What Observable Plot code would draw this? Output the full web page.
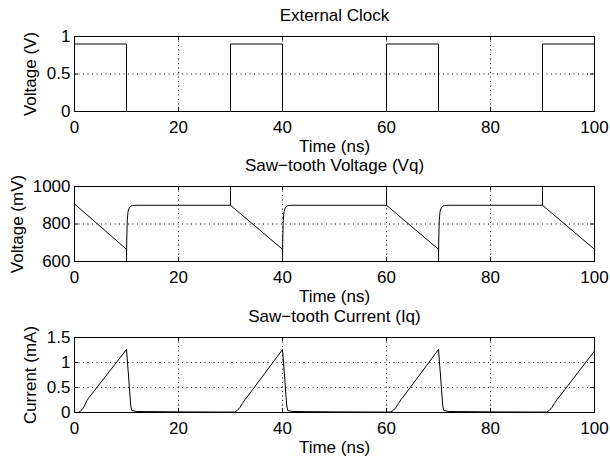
<!DOCTYPE html>
<html>
<head>
<meta charset="utf-8">
<script src="https://cdn.jsdelivr.net/npm/d3@7"></script>
<script src="https://cdn.jsdelivr.net/npm/@observablehq/plot@0.6"></script>
<style>
  html, body { margin: 0; padding: 0; background: #fff; }
  #chart { width: 610px; }
  #chart svg { display: block; }
</style>
</head>
<body>
<div id="chart"></div>
<script>
// Shared time axis (ns)
const xTicks = [0, 20, 40, 60, 80, 100];

// External clock (V)
const clockTicks = [0, 0.5, 1];
const clockTime  = [0, 10, 10, 30, 30, 40, 40, 60, 60, 70, 70, 90, 90, 100];
const clockVolts = [0.9, 0.9, 0, 0, 0.9, 0.9, 0, 0, 0.9, 0.9, 0, 0, 0.9, 0.9];

// Saw-tooth voltage Vq (mV)
const vqTicks = [600, 800, 1000];
const vqTime = [
  0, 10, 10, 10.05, 10.15, 10.3, 10.5, 10.8, 11.2, 12,
  30, 30, 30,
  40, 40, 40.05, 40.15, 40.3, 40.5, 40.8, 41.2, 42,
  60, 60, 60,
  70, 70, 70.05, 70.15, 70.3, 70.5, 70.8, 71.2, 72,
  90, 90, 90,
  100
];
const vqMillivolts = [
  907, 665, 600, 720, 820, 866, 885, 895, 899, 900,
  900, 1000, 900,
  665, 600, 720, 820, 866, 885, 895, 899, 900,
  900, 1000, 900,
  665, 600, 720, 820, 866, 885, 895, 899, 900,
  900, 1000, 900,
  665
];

// Saw-tooth current Iq (mA)
const iqTicks = [0, 0.5, 1, 1.5];
const iqTime = [
  0, 0.8, 1.2, 1.6, 2.0, 2.4, 2.8, 10,
  10.45, 10.8, 11, 12, 20, 30,
  30.8, 31.3, 31.8, 32.3, 32.8, 33.2, 40,
  40.45, 40.8, 41, 42, 50, 60,
  60.8, 61.3, 61.8, 62.3, 62.8, 63.2, 70,
  70.45, 70.8, 71, 72, 80, 90,
  90.8, 91.3, 91.8, 92.3, 92.8, 93.2, 100
];
const iqMilliamps = [
  0, 0.005, 0.03, 0.08, 0.15, 0.24, 0.3, 1.26,
  0.65, 0.15, 0.04, 0.02, 0.012, 0.008,
  0.01, 0.04, 0.1, 0.18, 0.26, 0.31, 1.26,
  0.65, 0.15, 0.04, 0.02, 0.012, 0.008,
  0.01, 0.04, 0.1, 0.18, 0.26, 0.31, 1.26,
  0.65, 0.15, 0.04, 0.02, 0.012, 0.008,
  0.01, 0.04, 0.1, 0.18, 0.26, 0.31, 1.23
];

const FONT = "'Liberation Sans', Arial, Helvetica, sans-serif";
const FS = 17;
const W = 610, ML = 74, MR = 16, MT = 36, PH = 75;
const PW = W - ML - MR;
const TICK = 4;

function panel({title, time, values, yDomain, yTicks, yLabel, labelDx, height}) {
  const data = time.map((t, i) => ({t, v: values[i]}));
  const dotted = {stroke: "black", strokeOpacity: 1, strokeWidth: 1, strokeDasharray: "1,3.5"};
  return Plot.plot({
    width: W,
    height,
    marginTop: MT,
    marginBottom: height - MT - PH,
    marginLeft: ML,
    marginRight: MR,
    style: {fontFamily: FONT, fontSize: FS + "px", color: "black", background: "white", overflow: "visible"},
    x: {domain: [0, 100]},
    y: {domain: yDomain},
    marks: [
      Plot.gridX(xTicks, dotted),
      Plot.gridY(yTicks, dotted),
      // inward tick marks on all four sides
      Plot.tickX(xTicks, {x: d => d, stroke: "black", insetTop: PH - TICK}),
      Plot.tickX(xTicks, {x: d => d, stroke: "black", insetBottom: PH - TICK}),
      Plot.tickY(yTicks, {y: d => d, stroke: "black", insetRight: PW - TICK}),
      Plot.tickY(yTicks, {y: d => d, stroke: "black", insetLeft: PW - TICK}),
      Plot.line(data, {x: "t", y: "v", stroke: "black", strokeWidth: 1, clip: true}),
      Plot.frame({stroke: "black", strokeWidth: 1}),
      Plot.axisX(xTicks, {tickSize: 0, tickPadding: 9, label: null, fontSize: FS, fill: "black"}),
      Plot.axisY(yTicks, {tickSize: 0, tickPadding: 4, label: null, tickFormat: d => `${d}`, fontSize: FS, fill: "black"}),
      Plot.text(["Time (ns)"], {frameAnchor: "bottom", lineAnchor: "middle", dy: 35, fontSize: FS, fill: "black"}),
      // y label sits just left of the widest tick label
      Plot.text([yLabel], {frameAnchor: "left", textAnchor: "middle", lineAnchor: "middle", rotate: -90, dx: labelDx, fontSize: FS, fill: "black"}),
      Plot.text([title], {frameAnchor: "top", lineAnchor: "middle", dy: -20.5, fontSize: FS, fill: "black"})
    ]
  });
}

const chart = document.getElementById("chart");
chart.append(panel({
  title: "External Clock", time: clockTime, values: clockVolts,
  yDomain: [0, 1], yTicks: clockTicks, yLabel: "Voltage (V)", labelDx: -44, height: 150
}));
chart.append(panel({
  title: "Saw\u2212tooth Voltage (Vq)", time: vqTime, values: vqMillivolts,
  yDomain: [600, 1000], yTicks: vqTicks, yLabel: "Voltage (mV)", labelDx: -57, height: 151
}));
chart.append(panel({
  title: "Saw\u2212tooth Current (Iq)", time: iqTime, values: iqMilliamps,
  yDomain: [0, 1.5], yTicks: iqTicks, yLabel: "Current (mA)", labelDx: -44, height: 159
}));
</script>
</body>
</html>
